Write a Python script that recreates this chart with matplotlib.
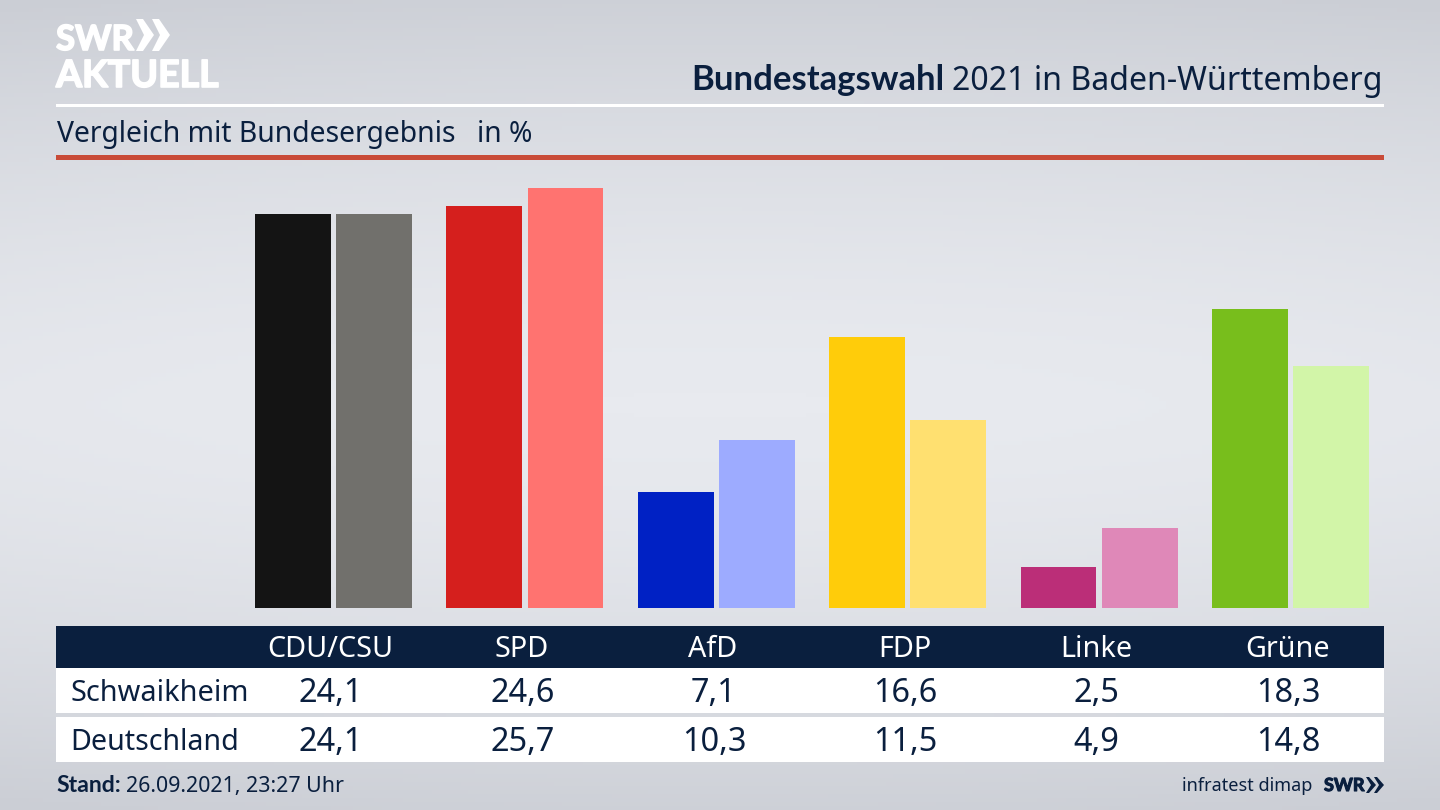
import numpy as np
import matplotlib
matplotlib.use("Agg")
import matplotlib.pyplot as plt
import matplotlib.patheffects as pe
from matplotlib.colors import LinearSegmentedColormap
from matplotlib.patches import Rectangle, Polygon
from matplotlib.transforms import blended_transform_factory

parteien = ["CDU/CSU", "SPD", "AfD", "FDP", "Linke", "Grüne"]
schwaikheim = [24.1, 24.6, 7.1, 16.6, 2.5, 18.3]
deutschland = [24.1, 25.7, 10.3, 11.5, 4.9, 14.8]
farben_ort = ["#141414", "#d51f1d", "#0021c4", "#ffcc0a", "#bb2e78", "#78be1c"]
farben_bund = ["#71706c", "#ff7370", "#9dabff", "#ffe070", "#df88b8", "#d2f5a8"]

NAVY = "#0a1f3e"
BOLD = "Lato"
plt.rcParams["font.family"] = ["Noto Sans", "DejaVu Sans"]

fig = plt.figure(figsize=(14.4, 8.1), dpi=100)

# Hintergrund + Layout in Pixeln
bg = fig.add_axes([0, 0, 1, 1])
bg.set_xlim(0, 1440)
bg.set_ylim(810, 0)
bg.axis("off")
yy, xx = np.mgrid[0:1:200j, 0:1:200j]
verlauf = 1 - np.clip(np.abs((yy - 0.5) / 0.5) ** 1.6 * 0.9 + ((xx - 0.5) / 0.5) ** 2 * 0.1, 0, 1)
cmap = LinearSegmentedColormap.from_list("hg", ["#cbced5", "#e8eaef"])
bg.imshow(verlauf, extent=[0, 1440, 810, 0], aspect="auto", cmap=cmap, vmin=0, vmax=1, zorder=0)

# Linien oben
bg.add_patch(Rectangle((56, 104), 1328, 3, color="white", lw=0))
bg.add_patch(Rectangle((56, 155), 1328, 5, color="#c94b38", lw=0))

# Tabelle
bg.add_patch(Rectangle((56, 626), 1328, 42, color=NAVY, lw=0))
bg.add_patch(Rectangle((56, 668), 1328, 45, color="white", lw=0))
bg.add_patch(Rectangle((56, 717), 1328, 45, color="white", lw=0))

# Logo, Strich macht die Schrift fetter
fett = [pe.withStroke(linewidth=1.2, foreground="white")]
bg.text(56, 50, "SWR", color="white", fontsize=25, fontweight="bold", family=BOLD,
        ha="left", va="baseline", path_effects=fett)
bg.text(56, 87, "AKTUELL", color="white", fontsize=27, fontweight="bold", family=BOLD,
        ha="left", va="baseline", path_effects=fett)
for x0 in (136, 152):
    bg.add_patch(Polygon([(x0, 19), (x0 + 7, 19), (x0 + 18, 35), (x0 + 7, 51), (x0, 51), (x0 + 8, 35)],
                         color="white", lw=0))

# Titel
bg.text(944, 90, "Bundestagswahl", color=NAVY, fontsize=24.9, fontweight="bold", family=BOLD,
        ha="right", va="baseline")
bg.text(1383, 90, "2021 in Baden-Württemberg", color=NAVY, fontsize=23.1, ha="right", va="baseline")
bg.text(57, 142, "Vergleich mit Bundesergebnis", color=NAVY, fontsize=20.4, ha="left", va="baseline")
bg.text(477, 142, "in %", color=NAVY, fontsize=20.3, ha="left", va="baseline")

# Balken
ax = fig.add_axes([56.5 / 1440, (810 - 608) / 810, 1328 / 1440, 448 / 810])
ax.patch.set_alpha(0)
ax.axis("off")
pos = np.arange(len(parteien))
ax.bar(pos - 0.212, schwaikheim, width=0.396, color=farben_ort)
ax.bar(pos + 0.212, deutschland, width=0.396, color=farben_bund)
ax.set_xlim(-1.447, 5.491)
ax.set_ylim(0, 27.42)

# Tabellentexte, x von den Balken
tr = blended_transform_factory(ax.transData, bg.transData)
for i, p in enumerate(parteien):
    x = i - 0.012
    bg.text(x - 0.005, 657, p, transform=tr, color="white", fontsize=20.7, ha="center", va="baseline")
    bg.text(x, 702, f"{schwaikheim[i]:.1f}".replace(".", ","), transform=tr, color=NAVY,
            fontsize=23.4, ha="center", va="baseline")
    bg.text(x, 751, f"{deutschland[i]:.1f}".replace(".", ","), transform=tr, color=NAVY,
            fontsize=23.4, ha="center", va="baseline")
bg.text(70, 701, "Schwaikheim", color=NAVY, fontsize=20.8, ha="left", va="baseline")
bg.text(70, 750, "Deutschland", color=NAVY, fontsize=20.6, ha="left", va="baseline")

# Fusszeile
bg.text(56, 792, "Stand:", color=NAVY, fontsize=16.6, fontweight="bold", family=BOLD, ha="left", va="baseline")
bg.text(126, 792, "26.09.2021, 23:27 Uhr", color=NAVY, fontsize=15.4, ha="left", va="baseline")
bg.text(1312, 791, "infratest dimap", color=NAVY, fontsize=13, ha="right", va="baseline")
bg.text(1324, 791, "SWR", color=NAVY, fontsize=13, fontweight="bold", family=BOLD, ha="left", va="baseline",
        path_effects=[pe.withStroke(linewidth=0.8, foreground=NAVY)])
for x0 in (1366, 1374):
    bg.add_patch(Polygon([(x0, 777), (x0 + 3, 777), (x0 + 10, 785), (x0 + 3, 793), (x0, 793), (x0 + 5, 785)],
                         color=NAVY, lw=0))

fig.savefig("out.png", dpi=100)
